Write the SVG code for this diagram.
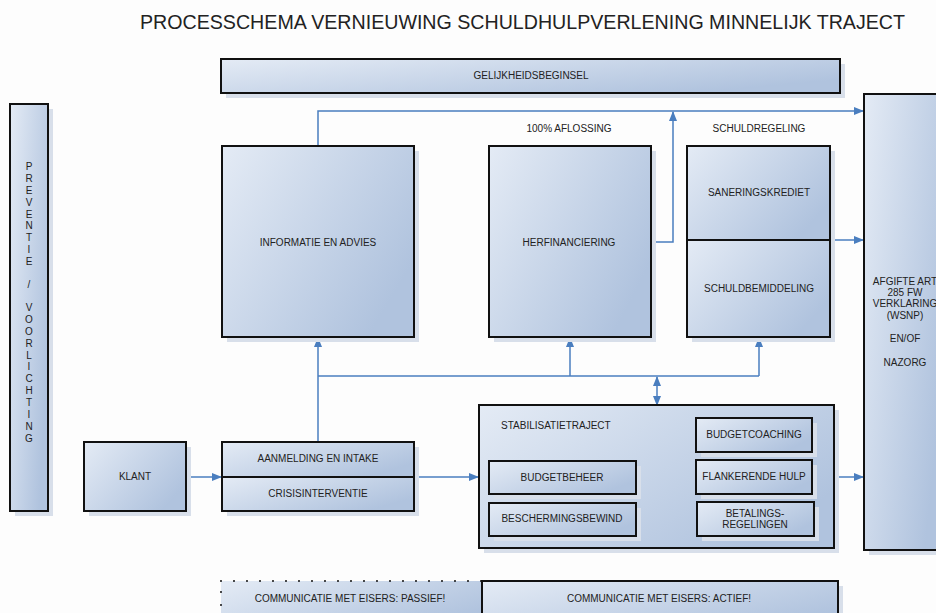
<svg xmlns="http://www.w3.org/2000/svg" width="936" height="613" viewBox="0 0 936 613">
<defs>
<linearGradient id="g" x1="0" y1="0" x2="1" y2="0.6">
<stop offset="0" stop-color="#e4ebf5"/>
<stop offset="1" stop-color="#b0c3de"/>
</linearGradient>
<marker id="ah" markerWidth="10" markerHeight="8" refX="9" refY="4" orient="auto-start-reverse" markerUnits="userSpaceOnUse"><path d="M0,0 L10,4 L0,8 z" fill="#4a7ebf"/></marker>
</defs>
<style>
.box{fill:url(#g);stroke:#111;stroke-width:2}
.dot{fill:url(#g);stroke:#111;stroke-width:2;stroke-dasharray:0 13;stroke-linecap:round}
.sh{fill:#d8dfea}
.t{font-family:"Liberation Sans",Arial,sans-serif;font-size:10px;fill:#222;text-anchor:middle;dominant-baseline:central}
.l{text-anchor:start}
.ttl{font-family:"Liberation Sans",Arial,sans-serif;font-size:20px;fill:#222;text-anchor:middle}
.c{fill:none;stroke:#4a7ebf;stroke-width:1.5}
</style>
<rect width="936" height="613" fill="#fdfdfd"/>
<text class="ttl" x="522.5" y="29" textLength="765" lengthAdjust="spacingAndGlyphs">PROCESSCHEMA VERNIEUWING SCHULDHULPVERLENING MINNELIJK TRAJECT</text>

<g id="connectors">
<polyline class="c" points="318,146 318,111 863,111" marker-end="url(#ah)"/>
<polyline class="c" points="651,242 673,242 673,112" marker-end="url(#ah)"/>
<line class="c" x1="830" y1="240" x2="863" y2="240" marker-end="url(#ah)"/>
<line class="c" x1="318" y1="442" x2="318" y2="338" marker-end="url(#ah)"/>
<line class="c" x1="318" y1="376" x2="759" y2="376"/>
<line class="c" x1="570" y1="376" x2="570" y2="338" marker-end="url(#ah)"/>
<line class="c" x1="759" y1="376" x2="759" y2="338" marker-end="url(#ah)"/>
<line class="c" x1="657" y1="377" x2="657" y2="405" marker-start="url(#ah)" marker-end="url(#ah)"/>
<line class="c" x1="186" y1="477" x2="221" y2="477" marker-end="url(#ah)"/>
<line class="c" x1="414" y1="477" x2="478" y2="477" marker-end="url(#ah)"/>
<line class="c" x1="834" y1="477" x2="863" y2="477" marker-end="url(#ah)"/>
</g>

<g id="preventie">
<rect class="sh" x="15" y="109" width="38" height="407"/>
<rect class="box" x="10" y="104" width="38" height="407"/>
<g class="t">
<text class="t" x="29" y="166">P</text>
<text class="t" x="29" y="178">R</text>
<text class="t" x="29" y="190">E</text>
<text class="t" x="29" y="202">V</text>
<text class="t" x="29" y="214">E</text>
<text class="t" x="29" y="225">N</text>
<text class="t" x="29" y="237">T</text>
<text class="t" x="29" y="249">I</text>
<text class="t" x="29" y="261">E</text>
<text class="t" x="29" y="284">/</text>
<text class="t" x="29" y="307">V</text>
<text class="t" x="29" y="319">O</text>
<text class="t" x="29" y="331">O</text>
<text class="t" x="29" y="343">R</text>
<text class="t" x="29" y="355">L</text>
<text class="t" x="29" y="366">I</text>
<text class="t" x="29" y="378">C</text>
<text class="t" x="29" y="390">H</text>
<text class="t" x="29" y="402">T</text>
<text class="t" x="29" y="414">I</text>
<text class="t" x="29" y="426">N</text>
<text class="t" x="29" y="438">G</text>
</g>
</g>

<g id="gelijkheid">
<rect class="sh" x="226" y="64" width="619" height="34"/>
<rect class="box" x="221" y="59" width="619" height="34"/>
<text class="t" x="531" y="75">GELIJKHEIDSBEGINSEL</text>
</g>

<g id="informatie">
<rect class="sh" x="227" y="151" width="192" height="191"/>
<rect class="box" x="222" y="146" width="192" height="191"/>
<text class="t" x="318" y="242">INFORMATIE EN ADVIES</text>
</g>

<g id="aflossing">
<text class="t" x="569" y="128">100% AFLOSSING</text>
</g>

<g id="herfinanciering">
<rect class="sh" x="494" y="151" width="162" height="191"/>
<rect class="box" x="489" y="146" width="162" height="191"/>
<text class="t" x="569" y="242">HERFINANCIERING</text>
</g>

<g id="schuldregeling">
<text class="t" x="759" y="128">SCHULDREGELING</text>
</g>

<g id="saneringskrediet">
<rect class="sh" x="692" y="151" width="143" height="191"/>
<rect class="box" x="687" y="146" width="143" height="94"/>
<text class="t" x="759" y="192">SANERINGSKREDIET</text>
</g>

<g id="schuldbemiddeling">
<rect class="box" x="687" y="240" width="143" height="97"/>
<text class="t" x="759" y="288">SCHULDBEMIDDELING</text>
</g>

<g id="afgifte">
<rect class="sh" x="869" y="99" width="80" height="456"/>
<rect class="box" x="864" y="94" width="80" height="456"/>
<text class="t" x="905" y="281">AFGIFTE ART</text>
<text class="t" x="905" y="292">285 FW</text>
<text class="t" x="905" y="303">VERKLARING</text>
<text class="t" x="905" y="315">(WSNP)</text>
<text class="t" x="905" y="338">EN/OF</text>
<text class="t" x="905" y="362">NAZORG</text>
</g>

<g id="klant">
<rect class="sh" x="89" y="447" width="102" height="69"/>
<rect class="box" x="84" y="442" width="102" height="69"/>
<text class="t" x="135" y="476">KLANT</text>
</g>

<g id="aanmelding">
<rect class="sh" x="227" y="447" width="192" height="69"/>
<rect class="box" x="222" y="442" width="192" height="35"/>
<text class="t" x="318" y="458">AANMELDING EN INTAKE</text>
</g>

<g id="crisisinterventie">
<rect class="box" x="222" y="477" width="192" height="34"/>
<text class="t" x="318" y="493">CRISISINTERVENTIE</text>
</g>

<g id="stabilisatietraject">
<rect class="sh" x="484" y="410" width="355" height="143"/>
<rect class="box" x="479" y="405" width="355" height="143"/>
<text class="t l" x="501" y="425">STABILISATIETRAJECT</text>
</g>

<g id="budgetbeheer">
<rect class="sh" x="494" y="466" width="147" height="33"/>
<rect class="box" x="489" y="461" width="147" height="33"/>
<text class="t" x="562" y="477">BUDGETBEHEER</text>
</g>

<g id="beschermingsbewind">
<rect class="sh" x="494" y="508" width="147" height="33"/>
<rect class="box" x="489" y="503" width="147" height="33"/>
<text class="t" x="562" y="518">BESCHERMINGSBEWIND</text>
</g>

<g id="budgetcoaching">
<rect class="sh" x="701" y="423" width="116" height="34"/>
<rect class="box" x="696" y="418" width="116" height="34"/>
<text class="t" x="754" y="434">BUDGETCOACHING</text>
</g>

<g id="flankerende">
<rect class="sh" x="701" y="465" width="116" height="34"/>
<rect class="box" x="696" y="460" width="116" height="34"/>
<text class="t" x="754" y="476">FLANKERENDE HULP</text>
</g>

<g id="betalingsregelingen">
<rect class="sh" x="702" y="507" width="117" height="34"/>
<rect class="box" x="697" y="502" width="117" height="34"/>
<text class="t" x="755" y="513">BETALINGS-</text>
<text class="t" x="755" y="524">REGELINGEN</text>
</g>

<g id="passief">
<rect class="dot" x="221" y="581" width="261" height="50"/>
<text class="t" x="350" y="598">COMMUNICATIE MET EISERS: PASSIEF!</text>
</g>

<g id="actief">
<rect class="sh" x="487" y="586" width="356" height="50"/>
<rect class="box" x="482" y="581" width="356" height="50"/>
<text class="t" x="659" y="598">COMMUNICATIE MET EISERS: ACTIEF!</text>
</g>
</svg>
